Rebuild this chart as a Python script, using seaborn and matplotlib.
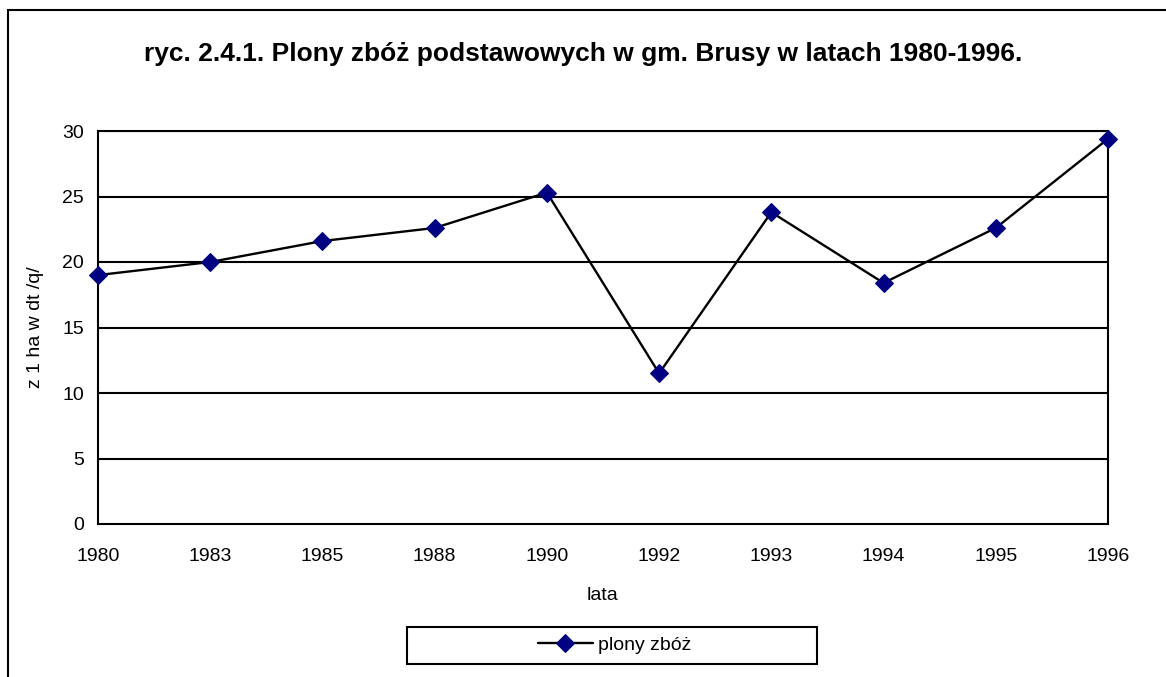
import matplotlib
matplotlib.use("Agg")
import matplotlib.pyplot as plt
import seaborn as sns
from matplotlib.patches import Rectangle

# data
years = ["1980", "1983", "1985", "1988", "1990", "1992", "1993", "1994", "1995", "1996"]
yields = [19.0, 20.0, 21.6, 22.6, 25.3, 11.5, 23.8, 18.4, 22.6, 29.4]
y_ticks = [0, 5, 10, 15, 20, 25, 30]

title = "ryc. 2.4.1. Plony zbóż podstawowych w gm. Brusy w latach 1980-1996."
series_label = "plony zbóż"

sns.set_style("white")
plt.rcParams["font.family"] = ["Liberation Sans", "DejaVu Sans"]
plt.rcParams["text.color"] = "black"
plt.rcParams["axes.labelcolor"] = "black"

W, H = 1166, 677
fig = plt.figure(figsize=(W / 100, H / 100), dpi=100)
ax = fig.add_axes([98 / W, 1 - 524 / H, (1108 - 98) / W, (524 - 131) / H])

# outer chart frame (runs off the right/bottom edges like the original)
fig.patches.append(Rectangle((8 / W, -0.05), 1.2, 1 - 10 / H + 0.05,
                             transform=fig.transFigure, fill=False,
                             edgecolor="black", linewidth=1.5, zorder=0))

for t in y_ticks[1:]:
    ax.axhline(t, color="black", linewidth=1.5, zorder=1)

sns.lineplot(
    x=years, y=yields, ax=ax,
    color="black", linewidth=1.7,
    marker="D", markersize=9,
    markerfacecolor="#000080", markeredgecolor="#000080",
    label=series_label, zorder=3, clip_on=False
)

ax.set_xlim(0, len(years) - 1)
ax.set_ylim(0, 30)
ax.set_yticks(y_ticks)

for s in ax.spines.values():
    s.set_color("black")
    s.set_linewidth(1.5)

ax.tick_params(axis="both", direction="out", length=5, width=1.5,
               color="black", labelsize=14, labelcolor="black")
ax.tick_params(axis="x", pad=12)
ax.tick_params(axis="y", pad=5)

ax.set_xlabel("")
ax.set_ylabel("")
fig.text(603 / W, 1 - 596 / H, "lata", ha="center", va="center", fontsize=14)
fig.text(35 / W, 1 - 327 / H, "z 1 ha w dt /q/", ha="center", va="center",
         rotation=90, fontsize=14)

fig.text(583 / W, 1 - 54 / H, title, ha="center", va="center",
         fontsize=19, fontweight="bold")

# legend box drawn separately so it can be as wide as the original
fig.patches.append(Rectangle((407 / W, 1 - 664 / H), (817 - 407) / W, (664 - 627) / H,
                             transform=fig.transFigure, fill=False,
                             edgecolor="black", linewidth=1.5))
ax.legend(loc="center", bbox_to_anchor=(615 / W, 1 - 645 / H),
          bbox_transform=fig.transFigure, frameon=False,
          fontsize=14, handlelength=2.8, handletextpad=0.3)

fig.savefig("out.png", dpi=100)
